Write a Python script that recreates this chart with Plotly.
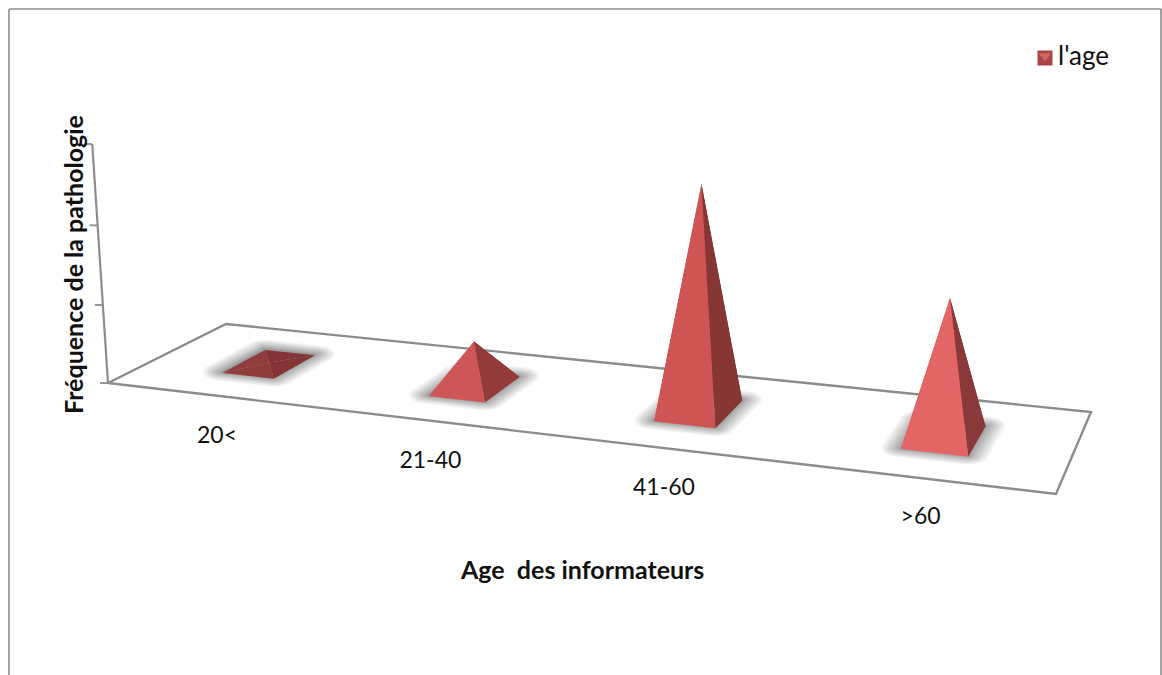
import numpy as np
import plotly.graph_objects as go

# Chart data
categories = ["20<", "21-40", "41-60", ">60"]
values = [0.4, 11.4, 54.0, 32.2]
value_ticks = [0, 20, 40, 60]
series_name = "l'age"

# Face styling for each pyramid
front_colors = ["#903B3C", "#CE5656", "#CF5555", "#E46566"]
side_colors = ["#843435", "#933B3A", "#863735", "#893939"]
GRID = "#8C8C8C"
INK = "#111111"
FONT = "Lato, Carlito, Calibri, sans-serif"

# Perspective camera: floor corners (category, depth) -> page pixels, plus
# the vanishing point of the vertical value direction.
floor_src = [(0, 0), (4, 0), (4, 1), (0, 1)]
floor_dst = [(108, 383), (1056, 494), (1091, 412), (226, 324)]
vertical_vp = (610.0, 8000.0)
height_scale = -0.000507


def build_camera():
    rows, rhs = [], []
    for (u, d), (x, y) in zip(floor_src, floor_dst):
        rows.append([u, d, 1, 0, 0, 0, -u * x, -d * x])
        rows.append([0, 0, 0, u, d, 1, -u * y, -d * y])
        rhs += [x, y]
    a, b, c, e, f, g, h, i = np.linalg.solve(np.array(rows, float), np.array(rhs, float))
    vert = height_scale * np.array([vertical_vp[0], vertical_vp[1], 1.0])
    return np.array([
        [a, b, vert[0], c],
        [e, f, vert[1], g],
        [h, i, vert[2], 1.0],
    ])


CAMERA = build_camera()


def project(u, d, v=0.0):
    p = CAMERA @ np.array([u, d, v, 1.0])
    return p[0] / p[2], p[1] / p[2]


def convex_hull(points):
    pts = sorted(set(points))

    def half(seq):
        out = []
        for p in seq:
            while len(out) >= 2 and (
                (out[-1][0] - out[-2][0]) * (p[1] - out[-2][1])
                - (out[-1][1] - out[-2][1]) * (p[0] - out[-2][0])
            ) <= 0:
                out.pop()
            out.append(p)
        return out[:-1]

    return half(pts) + half(pts[::-1])


def rounded_outline(corners, rx, ry):
    """Outline of a quad grown by an ellipse, used for one shadow layer."""
    angles = np.linspace(0, 2 * np.pi, 28, endpoint=False)
    pts = [(float(cx + rx * np.cos(a)), float(cy + ry * np.sin(a)))
           for cx, cy in corners for a in angles]
    return convex_hull(pts)


fig = go.Figure()


def add_poly(points, fill=None, line=None, width=0):
    pts = list(points) + [points[0]]
    fig.add_trace(go.Scatter(
        x=[p[0] for p in pts], y=[p[1] for p in pts], mode="lines",
        fill="toself" if fill else None,
        fillcolor=fill,
        line=dict(color=line or "rgba(0,0,0,0)", width=width),
        hoverinfo="skip", showlegend=False,
    ))


# Floor plate
add_poly([project(u, d) for u, d in floor_src], line=GRID, width=2.4)

# Value axis with its ticks
xs, ys = zip(*[project(0, 0, v) for v in (value_ticks[0], value_ticks[-1])])
fig.add_trace(go.Scatter(x=xs, y=ys, mode="lines", line=dict(color=GRID, width=2.2),
                         hoverinfo="skip", showlegend=False))
for v in value_ticks:
    x0, y0 = project(0, 0, v)
    fig.add_trace(go.Scatter(x=[x0 - 8, x0], y=[y0, y0], mode="lines",
                             line=dict(color=GRID, width=1.8),
                             hoverinfo="skip", showlegend=False))

# Pyramids with a soft floor shadow
half_w, half_d = 0.128, 0.19
u_start, u_step, d_center = 0.522, 0.995, 0.485
shadow_layers = 16
for i, v in enumerate(values):
    uc = u_start + i * u_step
    fl = project(uc - half_w, d_center - half_d)
    fr = project(uc + half_w, d_center - half_d)
    br = project(uc + half_w, d_center + half_d)
    bl = project(uc - half_w, d_center + half_d)
    apex = project(uc, d_center, v)

    shadow = [(x, y - 1) for x, y in (fl, fr, br, bl)]
    for step in range(shadow_layers, 0, -1):
        grow = (step / shadow_layers) ** 1.4
        add_poly(rounded_outline(shadow, 20 * grow, 9 * grow), fill="rgba(70,70,70,0.045)")

    add_poly([bl, br, apex], fill=side_colors[i])
    add_poly([fl, bl, apex], fill=front_colors[i])
    add_poly([fr, br, apex], fill=side_colors[i])
    add_poly([fl, fr, apex], fill=front_colors[i])

# Category labels sit just below the front edge of the floor plate
label_drop = 47
label_pts = [project(i + 0.5, 0.07) for i in range(len(categories))]
fig.add_trace(go.Scatter(
    x=[p[0] for p in label_pts], y=[p[1] + label_drop for p in label_pts],
    mode="text", text=categories,
    textfont=dict(family=FONT, size=23, color=INK),
    hoverinfo="skip", showlegend=False,
))

# Legend key and label
fig.add_trace(go.Scatter(
    x=[1045], y=[58], mode="markers", marker=dict(symbol="square", size=15, color="#A84444"),
    hoverinfo="skip", showlegend=False,
))
fig.add_trace(go.Scatter(
    x=[1045], y=[56], mode="markers", marker=dict(symbol="triangle-down", size=11, color="#D46464"),
    hoverinfo="skip", showlegend=False,
))
fig.add_trace(go.Scatter(
    x=[1058], y=[58], mode="text", name=series_name, text=[series_name],
    textposition="middle right",
    textfont=dict(family=FONT, size=26, color=INK),
    hoverinfo="skip", showlegend=False,
))

frame = dict(type="line", xref="paper", yref="paper", line=dict(color=GRID, width=1.6))
fig.update_layout(
    width=1162, height=675, autosize=False,
    margin=dict(l=0, r=0, t=0, b=0),
    paper_bgcolor="white", plot_bgcolor="white",
    xaxis=dict(range=[0, 1162], visible=False, fixedrange=True),
    yaxis=dict(range=[675, 0], visible=False, fixedrange=True),
    showlegend=False,
    shapes=[
        dict(frame, x0=9 / 1162, x1=9 / 1162, y0=0, y1=1 - 9 / 675),
        dict(frame, x0=9 / 1162, x1=1161 / 1162, y0=1 - 9 / 675, y1=1 - 9 / 675),
        dict(frame, x0=1161 / 1162, x1=1161 / 1162, y0=0, y1=1 - 9 / 675),
    ],
    annotations=[
        dict(text="<b>Age\u00a0 des informateurs</b>", x=582, y=569, xref="x", yref="y",
             showarrow=False, font=dict(family=FONT, size=25, color=INK)),
        dict(text="<b>Fréquence de la pathologie</b>", x=73, y=265, xref="x", yref="y",
             textangle=-90, showarrow=False, font=dict(family=FONT, size=25, color=INK)),
    ],
)

fig.write_html("out.html")
